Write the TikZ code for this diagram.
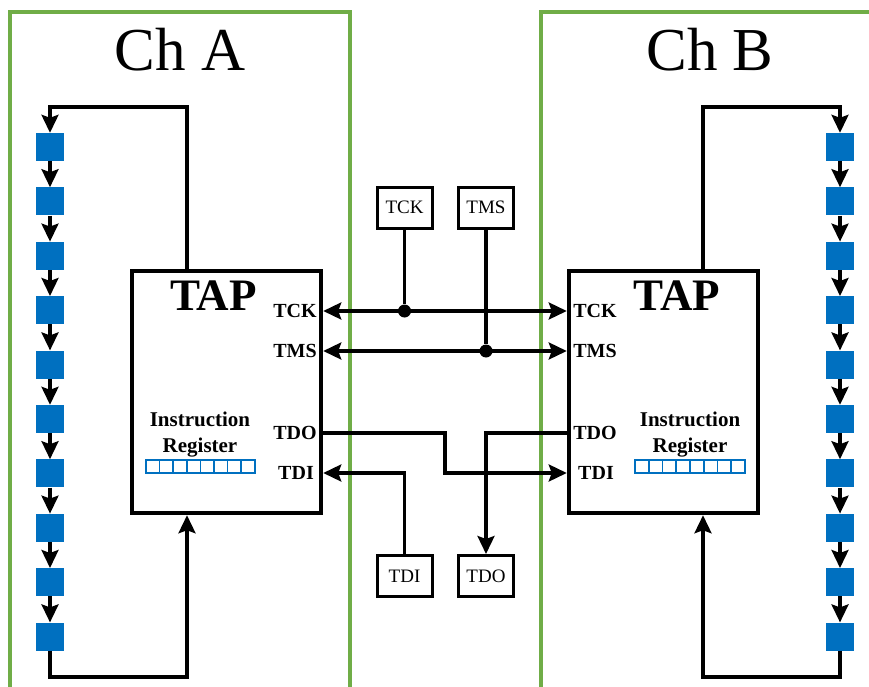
\documentclass[tikz,border=0pt]{standalone}
\usepackage{fontspec}
\setmainfont{Liberation Serif}
\usetikzlibrary{arrows.meta}
\definecolor{chgreen}{RGB}{112,173,71}
\definecolor{regblue}{RGB}{0,112,192}
\begin{document}
\begin{tikzpicture}[x=1pt,y=-1pt,
  wire/.style={line width=3.1pt},
  tip/.style={-{Stealth[length=18pt,width=17pt,inset=3pt]}},
  bitip/.style={{Stealth[length=18pt,width=17pt,inset=3pt]}-{Stealth[length=18pt,width=17pt,inset=3pt]}},
  frame/.style={chgreen,line width=3.8pt},
  cell/.style={fill=regblue,draw=none,minimum size=28pt,inner sep=0pt},
  tapbox/.style={draw,line width=4.5pt,minimum width=189pt,minimum height=242pt,inner sep=0pt},
  port/.style={font=\fontsize{20}{22}\selectfont\bfseries,inner sep=0pt},
  sigbox/.style={draw,line width=3pt,minimum width=55pt,minimum height=41pt,inner sep=0pt,font=\fontsize{19}{21}\selectfont},
  dot/.style={circle,fill,inner sep=0pt,minimum size=13pt},
  title/.style={font=\fontsize{61}{66}\selectfont},
  taptext/.style={font=\fontsize{45}{48}\selectfont\bfseries,inner sep=0pt},
  irtext/.style={font=\fontsize{21}{26}\selectfont\bfseries,align=center,inner sep=0pt},
  reg/.style={regblue,line width=1.6pt}]
\useasboundingbox (0,0) rectangle (869,687);

% channel frames
\draw[frame] (10,700) -- (10,12) -- (350,12) -- (350,700);
\draw[frame] (541,700) -- (541,12) -- (880,12);
\node[title] (chA) at (180,50) {Ch A};
\node[title] (chB) at (710,50) {Ch B};

% TAP boxes
\node[tapbox] (tapA) at (226.5,392) {};
\node[tapbox] (tapB) at (663.5,392) {};
\node[taptext] (tapAt) at (213.5,296) {TAP};
\node[taptext] (tapBt) at (677,296) {TAP};

% ports
\node[port] (tckA) at (295,311) {TCK};
\node[port] (tmsA) at (295,351) {TMS};
\node[port] (tdoA) at (295,433) {TDO};
\node[port] (tdiA) at (296,473) {TDI};
\node[port] (tckB) at (595,311) {TCK};
\node[port] (tmsB) at (595,351) {TMS};
\node[port] (tdoB) at (595,433) {TDO};
\node[port] (tdiB) at (596,473) {TDI};

% instruction registers
\node[irtext] (irA) at (200,435) {Instruction\\Register};
\node[irtext] (irB) at (690,435) {Instruction\\Register};
\foreach \k in {0,...,7} {
  \draw[reg] (146+13.6*\k,460) rectangle ++(13.6,13);
  \draw[reg] (635+13.75*\k,460) rectangle ++(13.75,13);
}

% scan chains
\foreach \i in {1,...,10} {
  \node[cell] (a\i) at (50,{147+54.4*(\i-1)}) {};
  \node[cell] (b\i) at (840,{147+54.4*(\i-1)}) {};
}
\foreach \i [evaluate=\i as \j using int(\i+1)] in {1,...,9} {
  \draw[wire,tip] (a\i.south) -- (a\j.north);
  \draw[wire,tip] (b\i.south) -- (b\j.north);
}
\coordinate (cAtop) at (187,107);
\coordinate (cAbot) at (187,677);
\coordinate (cBtop) at (703,107);
\coordinate (cBbot) at (703,677);
\draw[wire,tip] (tapA.north -| cAtop) -- (cAtop) -| (a1.north);
\draw[wire,tip] (a10.south) |- (cAbot) -- (tapA.south -| cAbot);
\draw[wire,tip] (tapB.north -| cBtop) -- (cBtop) -| (b1.north);
\draw[wire,tip] (b10.south) |- (cBbot) -- (tapB.south -| cBbot);

% signal boxes
\node[sigbox] (sTCK) at (404.5,207.5) {TCK};
\node[sigbox] (sTMS) at (486,207.5) {TMS};
\node[sigbox] (sTDI) at (404.5,576) {TDI};
\node[sigbox] (sTDO) at (486,576) {TDO};

% TCK / TMS buses
\draw[wire,bitip] (tapA.east |- tckA) -- (tapB.west |- tckB);
\draw[wire,bitip] (tapA.east |- tmsA) -- (tapB.west |- tmsB);
\node[dot] (dTCK) at (sTCK.south |- tckA) {};
\node[dot] (dTMS) at (sTMS.south |- tmsA) {};
\draw[wire] (sTCK.south) -- (dTCK);
\draw[wire] (sTMS.south) -- (dTMS);

% TDO A -> TDI B
\coordinate (jA) at (445,453);
\draw[wire,tip] (tapA.east |- tdoA) -| (jA) |- (tapB.west |- tdiB);
% TDO B -> TDO box
\draw[wire,tip] (tapB.west |- tdoB) -| (sTDO.north);
% TDI box -> TDI A
\draw[wire,tip] (sTDI.north) |- (tapA.east |- tdiA);
\end{tikzpicture}
\end{document}
